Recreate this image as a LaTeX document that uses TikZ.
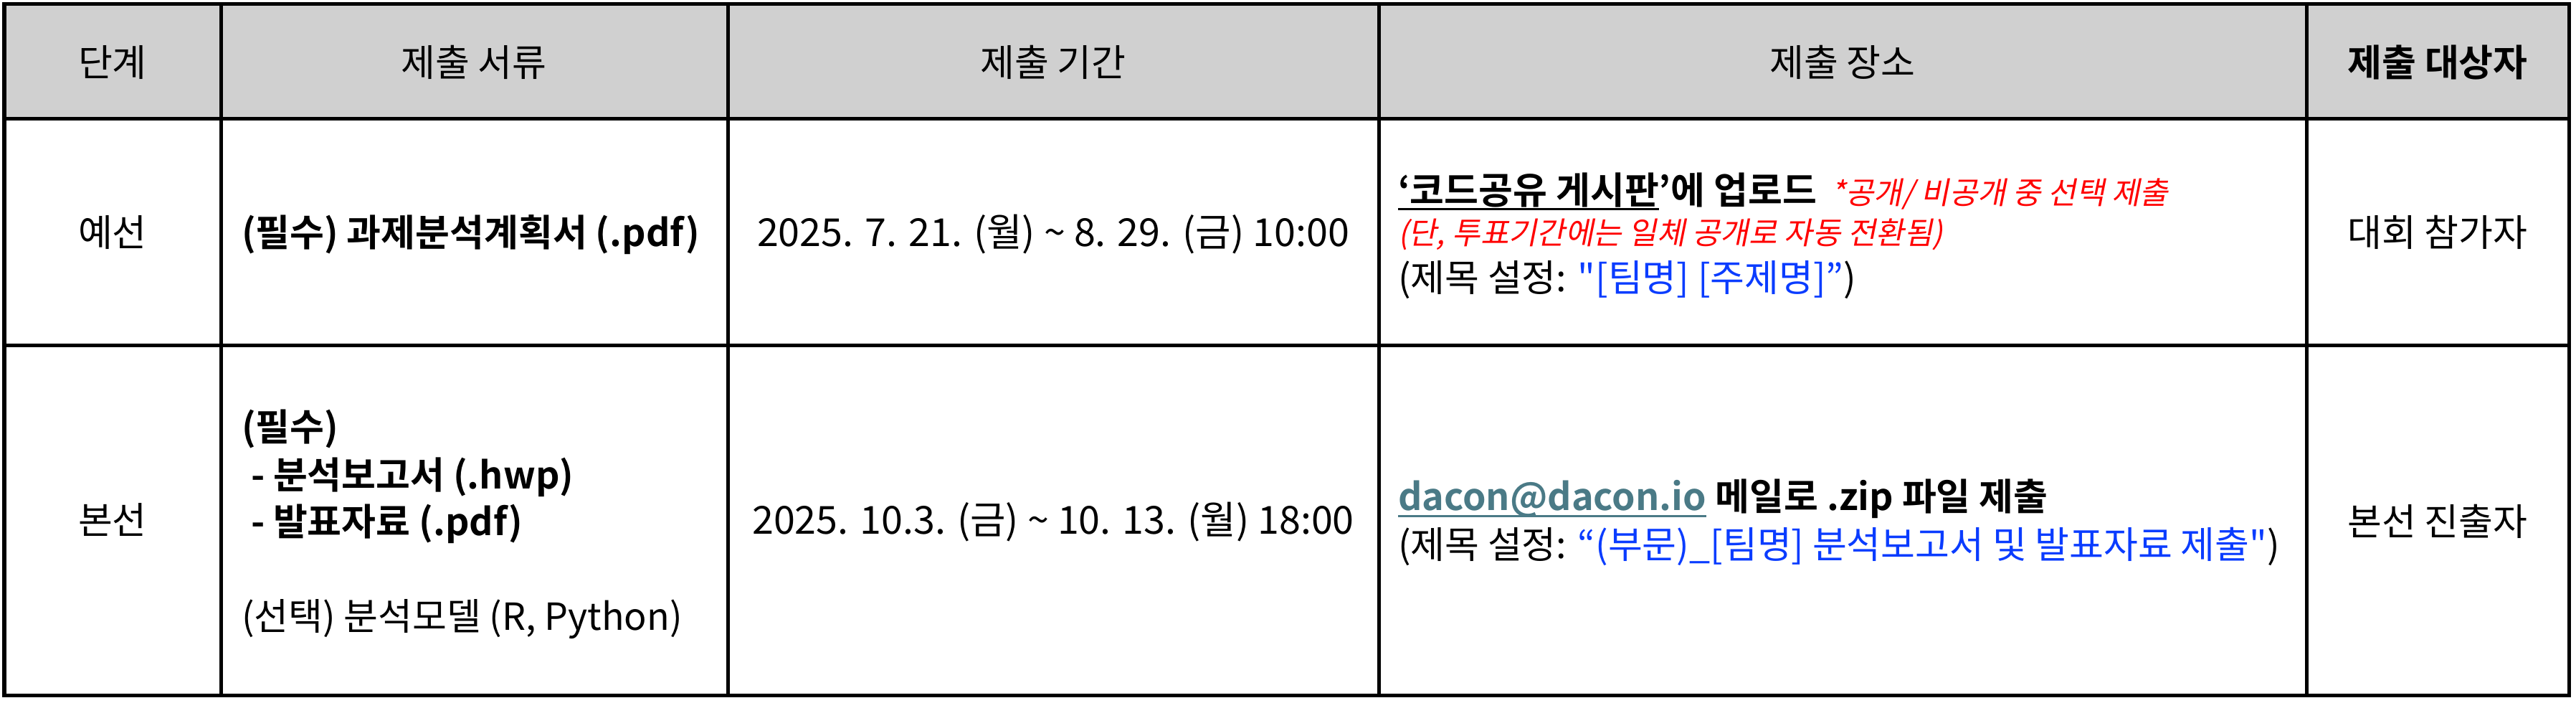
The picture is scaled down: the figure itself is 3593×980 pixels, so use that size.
\documentclass[tikz,border=0pt]{standalone}
\usepackage{fontspec}
\setmainfont{Noto Sans CJK KR}[BoldFont={Noto Sans CJK KR Bold}]
\newfontfamily\slantkr{Noto Sans CJK KR}[FakeSlant=0.2]
\newfontfamily\plainkr{Noto Sans CJK KR}
\newcommand{\dq}{{\plainkr"}}
\definecolor{headgray}{RGB}{208,208,208}
\definecolor{notered}{RGB}{255,0,0}
\definecolor{titleblue}{RGB}{10,60,255}
\definecolor{mailteal}{RGB}{74,122,134}

\begin{document}
\begin{tikzpicture}[x=0.01cm, y=-0.01cm, line width=0.05cm,
    every node/.style={inner sep=0pt, outer sep=0pt,
        font=\fontsize{14.8}{18}\selectfont},
    mid/.style={anchor=base},
    lft/.style={anchor=base west},
    strong/.style={font=\fontsize{14.8}{18}\selectfont\bfseries},
    datetext/.style={anchor=base, font=\fontsize{15.3}{18}\selectfont},
    remark/.style={anchor=base west, text=notered,
        font=\slantkr\fontsize{12.2}{15}\selectfont}]
    \useasboundingbox (0,0) rectangle (3593,980);

    %header band and grid
    \fill[headgray] (6,6) rectangle (3583,166);
    \draw (6,6) rectangle (3583,970);
    \draw (6,166) -- (3583,166);
    \draw (6,482) -- (3583,482);
    \foreach \x in {308,1015,1923,3217}
        \draw (\x,6) -- (\x,970);

    %header texts
    \node[mid] (hstage) at (157,107) {단계};
    \node[mid] (hdocs) at (661,107) {제출 서류};
    \node[mid] (hperiod) at (1469,107) {제출 기간};
    \node[mid] (hplace) at (2570,107) {제출 장소};
    \node[mid, strong] (htarget) at (3400,107) {제출 대상자};

    %preliminary round
    \node[mid] (stage1) at (157,344) {예선};
    \node[lft, strong] (docs1) at (337,344) {(필수) 과제분석계획서 (.pdf)};
    \node[datetext] (period1) at (1469,344)
        {2025. 7. 21. (월) \char"7E{} 8. 29. (금) 10:00};
    \node[lft, strong] (board) at (1950,285) {‘코드공유 게시판};
    \draw[line width=0.03cm] ([yshift=-0.07cm]board.base west)
        -- ([yshift=-0.07cm]board.base east);
    \node[lft, strong] (upload) at (board.base east) {’에 업로드};
    \node[remark] (choice) at ([xshift=0.2cm]upload.base east)
        {*공개/ 비공개 중 선택 제출};
    \node[remark] (switch) at (1950,341)
        {(단, 투표기간에는 일체 공개로 자동 전환됨)};
    \node[lft] (title1) at (1950,407)
        {(제목 설정: \textcolor{titleblue}{\dq[팀명] [주제명]”})};
    \node[mid] (target1) at (3400,344) {대회 참가자};

    %final round
    \node[mid] (stage2) at (157,745) {본선};
    \node[lft, strong] (required) at (337,615) {(필수)};
    \node[lft, strong] (report) at (350,682) {- 분석보고서 (.hwp)};
    \node[lft, strong] (slides) at (350,747) {- 발표자료 (.pdf)};
    \node[lft] (model) at (337,879) {(선택) 분석모델 (R, Python)};
    \node[datetext] (period2) at (1469,745)
        {2025. 10.3. (금) \char"7E{} 10. 13. (월) 18:00};
    \node[lft, strong, text=mailteal] (mail) at (1950,712) {dacon@dacon.io};
    \draw[mailteal, line width=0.03cm] ([yshift=-0.08cm]mail.base west)
        -- ([yshift=-0.08cm]mail.base east);
    \node[lft, strong] (zip) at ([xshift=0.13cm]mail.base east)
        {메일로 .zip 파일 제출};
    \node[lft] (title2) at (1950,779)
        {(제목 설정: \textcolor{titleblue}{“(부문)\_[팀명] 분석보고서 및 발표자료 제출\dq})};
    \node[mid] (target2) at (3400,747) {본선 진출자};
\end{tikzpicture}
\end{document}
